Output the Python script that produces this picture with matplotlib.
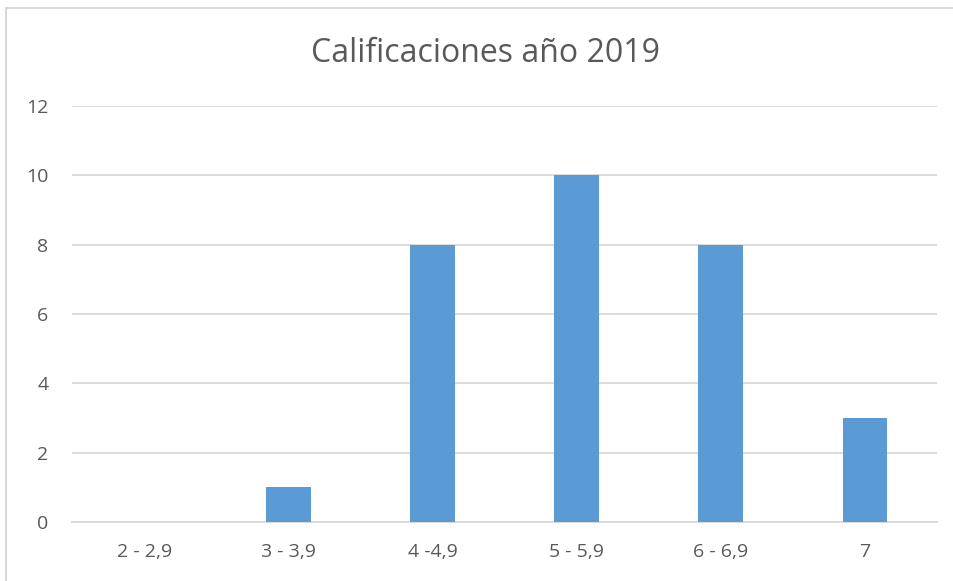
import matplotlib
matplotlib.use("Agg")
import matplotlib.pyplot as plt
from matplotlib.lines import Line2D

categorias = ["2 - 2,9", "3 - 3,9", "4 -4,9", "5 - 5,9", "6 - 6,9", "7"]
valores = [0, 1, 8, 10, 8, 3]
ticks_y = [0, 2, 4, 6, 8, 10, 12]

plt.rcParams['font.family'] = ['Open Sans', 'DejaVu Sans']

fig = plt.figure(figsize=(9.54, 5.81), dpi=100)
ax = fig.add_axes([72/954, 59/581, (937-72)/954, (522-106)/581])

x = list(range(len(categorias)))
ax.bar(x, valores, width=0.31, color="#5b9bd5", zorder=3)

ax.set_xlim(-0.5, len(categorias) - 0.5)
ax.set_ylim(0, 12)
ax.set_yticks(ticks_y)
ax.set_xticks(x)
ax.set_xticklabels(categorias)
ax.tick_params(axis="both", length=0, labelsize=14, colors="#595959")
ax.tick_params(axis="y", pad=17)
ax.tick_params(axis="x", pad=15)
ax.grid(axis="y", color="#d9d9d9", linewidth=1.3, zorder=0)
for s in ["top", "right", "left"]:
    ax.spines[s].set_visible(False)
ax.spines["bottom"].set_color("#d9d9d9")
ax.spines["bottom"].set_linewidth(1.3)

fig.text(486/954, (581-53)/581, "Calificaciones año 2019", ha="center", va="center",
         fontsize=23, color="#595959")

# borde del area del grafico
fig.add_artist(Line2D([6/954, 6/954], [0, (581-8)/581], color="#d9d9d9", linewidth=1.5))
fig.add_artist(Line2D([6/954, 1], [(581-8)/581, (581-8)/581], color="#d9d9d9", linewidth=1.5))

fig.savefig("out.png", dpi=100)
